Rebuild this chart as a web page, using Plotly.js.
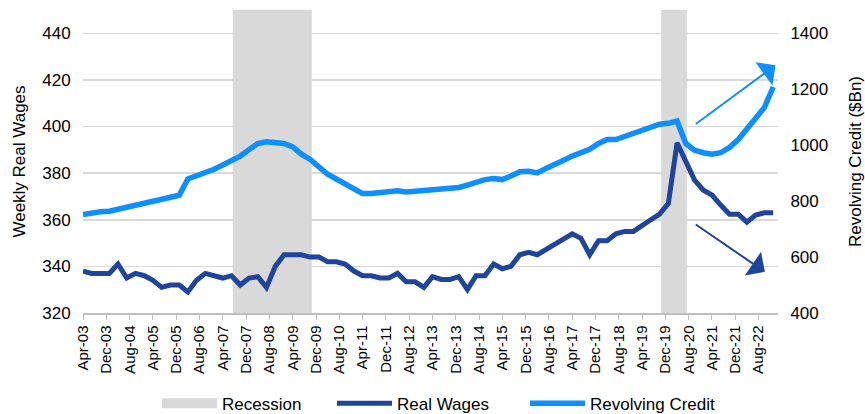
<!DOCTYPE html>
<html>
<head>
<meta charset="utf-8">
<script src="https://cdn.plot.ly/plotly-3.0.1.min.js"></script>
<style>
  html, body { margin: 0; padding: 0; background: #fff; }
  #chart { width: 865px; height: 414px; }
</style>
</head>
<body>
<div id="chart"></div>
<script>
// quarterly observations, first one Apr-03
const firstQuarter = [2003, 4];
const realWages = [
  338, 337, 337, 337, 341, 335, 337, 336, 334, 331,
  332, 332, 329, 334, 337, 336, 335, 336, 332, 335,
  335.6, 331, 340, 345, 345, 345, 344, 344, 342, 342,
  341, 338, 336, 336, 335, 335, 337, 333.4, 333.4, 331,
  335.6, 334.4, 334.4, 335.6, 330, 336, 336, 341, 339, 340,
  345, 346, 345, 347.4, 349.4, 352, 354, 352, 345, 351,
  351, 354, 355, 355, 357.7, 360, 362.4, 367, 393, 385,
  377, 372.7, 370.6, 366.3, 362.4, 362.4, 359, 362, 363, 363
];
const revolvingCredit = [
  752, 758, 762, 764, 771, 776, 786, 794, 801, 808,
  814, 821, 879, 890, 899, 914, 929, 943, 961, 984,
  1006, 1012, 1010, 1006, 994, 968, 949, 923, 896, 879,
  863, 845, 827, 827, 830, 833, 837, 833, 836, 837,
  842, 845, 846, 849, 857, 869, 877, 881, 877, 890,
  905, 907, 901, 917, 934, 946, 961, 973, 985, 1006,
  1020, 1020, 1032, 1044, 1054, 1063, 1075, 1078, 1086, 1006,
  982, 973, 968, 973, 992, 1020, 1056, 1099, 1135, 1208
];
const recessionStart = ['2007-07-15', '2019-10-18'];
const recessionEnd = ['2009-10-18', '2020-07-12'];

// trend arrows: [tailDate, tailValue, tipDate, tipValue] on the wages axis
const creditArrow = ['2020-09-28', 400.6, '2023-01-25', 426.3];
const wagesArrow = ['2020-09-28', 358.4, '2022-10-05', 337.7];

const dates = [];
for (let i = 0; i < realWages.length; i++) {
  const mm = firstQuarter[1] - 1 + 3 * i;
  const y = firstQuarter[0] + Math.floor(mm / 12);
  const m = (mm % 12) + 1;
  dates.push(y + '-' + String(m).padStart(2, '0') + '-01');
}

const fontFam = 'Arial, "Liberation Sans", sans-serif';
const darkBlue = '#1f449c';
const lightBlue = '#0d8fff';
const grey = '#d9d9d9';

const traces = [
  {
    // legend entry only, the bands themselves are shapes
    type: 'scatter', mode: 'lines', name: 'Recession',
    x: [null], y: [null], legend: 'legend',
    line: { color: grey, width: 14 }
  },
  {
    type: 'scatter', mode: 'lines', name: 'Real Wages',
    x: dates, y: realWages, yaxis: 'y', legend: 'legend2',
    line: { color: darkBlue, width: 5 }
  },
  {
    type: 'scatter', mode: 'lines', name: 'Revolving Credit',
    x: dates, y: revolvingCredit, yaxis: 'y2', legend: 'legend3',
    line: { color: lightBlue, width: 5.5 }
  }
];

const shapes = recessionStart.map(function(s, i) {
  return {
    type: 'rect', xref: 'x', yref: 'paper',
    x0: s, x1: recessionEnd[i], y0: 0, y1: 1,
    fillcolor: grey, line: { width: 0 }, layer: 'between'
  };
});

function arrow(a, color) {
  return {
    xref: 'x', yref: 'y', axref: 'x', ayref: 'y',
    x: a[2], y: a[3], ax: a[0], ay: a[1],
    text: '', showarrow: true,
    arrowhead: 1, arrowsize: 2.4, arrowwidth: 2, arrowcolor: color
  };
}

function legendAt(x) {
  return {
    orientation: 'h', x: x, xanchor: 'left',
    yref: 'container', y: 0.025, yanchor: 'middle',
    font: { size: 17 }, itemwidth: 55, bgcolor: 'rgba(0,0,0,0)'
  };
}

const layout = {
  width: 865, height: 414,
  margin: { l: 83, r: 87, t: 10, b: 101 },
  paper_bgcolor: '#fff', plot_bgcolor: '#fff',
  font: { family: fontFam, size: 17, color: '#000' },
  showlegend: true,
  legend: legendAt(0.1065),
  legend2: legendAt(0.3583),
  legend3: legendAt(0.636),
  xaxis: {
    type: 'date',
    range: ['2003-04-01', '2023-02-20'],
    tick0: '2003-04-01', dtick: 'M8', tickformat: '%b-%y',
    tickangle: -90, ticks: 'outside', ticklen: 5, tickcolor: '#bfbfbf',
    showline: true, linecolor: '#bfbfbf', linewidth: 1.5,
    showgrid: false, zeroline: false,
    tickfont: { size: 15 }
  },
  yaxis: {
    range: [320, 450], tick0: 320, dtick: 20,
    showgrid: true, gridcolor: grey, gridwidth: 1.5,
    zeroline: false, showline: false,
    ticks: 'outside', ticklen: 8, tickcolor: 'rgba(0,0,0,0)',
    title: { text: 'Weekly Real Wages', font: { size: 17 }, standoff: 12 }
  },
  yaxis2: {
    overlaying: 'y', side: 'right',
    range: [400, 1483.3], tick0: 400, dtick: 200,
    showgrid: false, zeroline: false, showline: false,
    ticks: 'outside', ticklen: 8, tickcolor: 'rgba(0,0,0,0)',
    title: { text: 'Revolving Credit ($Bn)', font: { size: 17 }, standoff: 24 }
  },
  shapes: shapes,
  annotations: [arrow(creditArrow, lightBlue), arrow(wagesArrow, darkBlue)]
};

Plotly.newPlot('chart', traces, layout, { displayModeBar: false, staticPlot: true });
</script>
</body>
</html>
